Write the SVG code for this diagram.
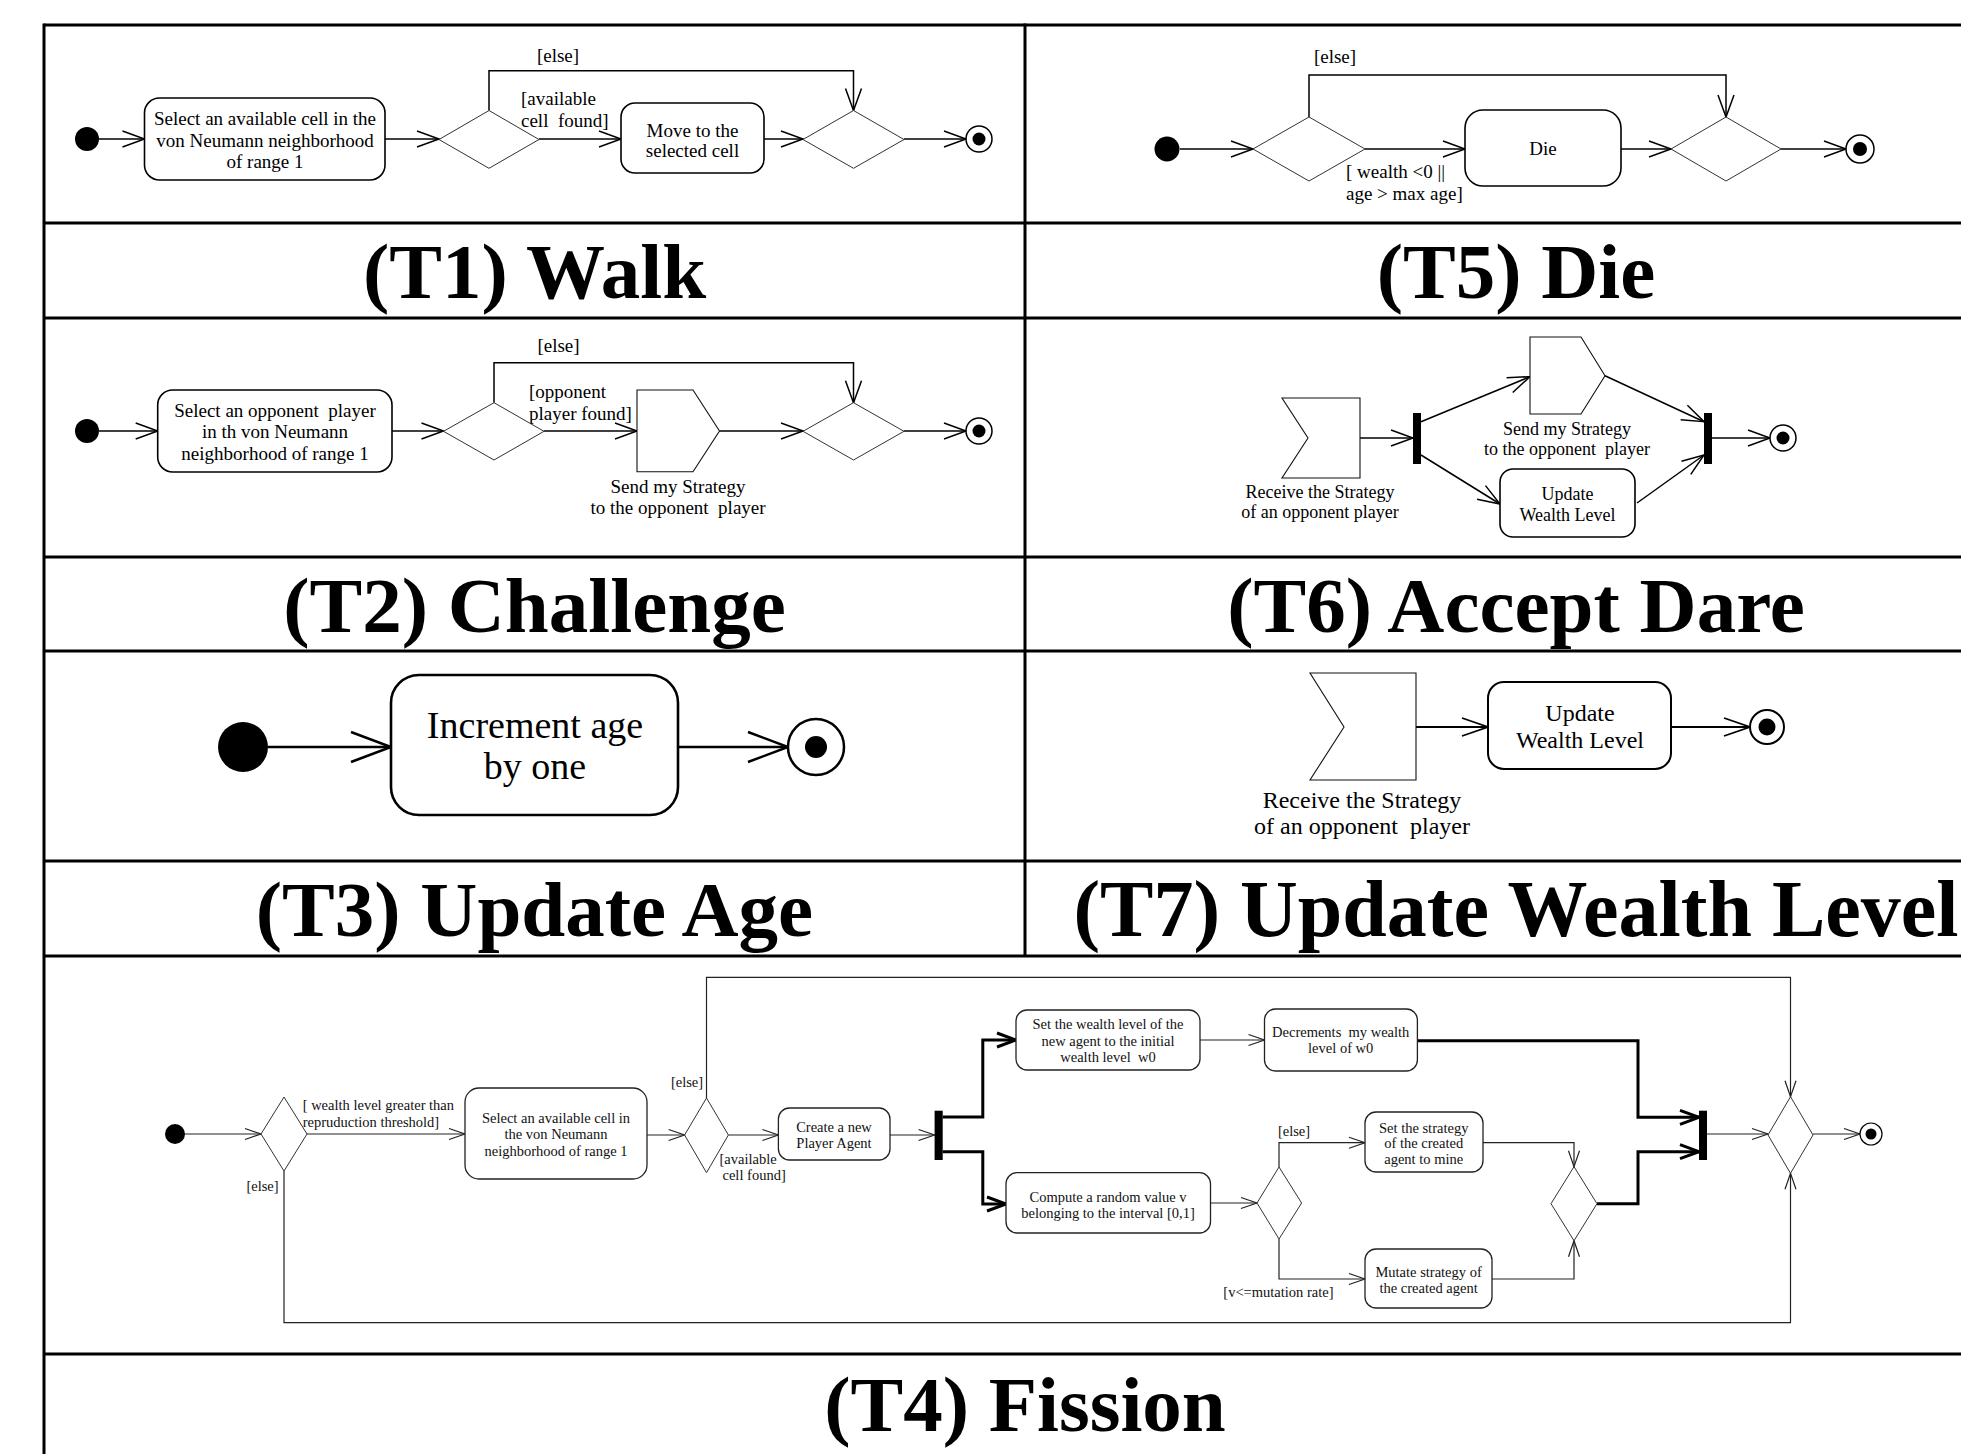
<svg xmlns="http://www.w3.org/2000/svg" width="1961" height="1454" viewBox="0 0 1961 1454">
  <defs>
    <style>
      .frame { stroke:#000; stroke-width:3; fill:none; }
      .act { fill:#fff; stroke:#000; stroke-width:1.6; }
      .act4 { fill:#fff; stroke:#222; stroke-width:1.3; }
      .dec { fill:#fff; stroke:#333; stroke-width:1; }
      .sig { fill:#fff; stroke:#111; stroke-width:1.1; }
      .bar { fill:#000; }
      .dot { fill:#000; }
      .ring { fill:#fff; stroke:#000; stroke-width:1.5; }
      .ln { stroke:#000; stroke-width:1.5; fill:none; }
      .ln3 { stroke:#000; stroke-width:2.6; fill:none; }
      .ln7 { stroke:#000; stroke-width:2; fill:none; }
      .ln4 { stroke:#222; stroke-width:1.2; fill:none; }
      .lnt { stroke:#000; stroke-width:3; fill:none; }
      text { font-family:"Liberation Serif","Times New Roman",serif; fill:#000; white-space:pre; }
      .title { font-weight:bold; font-size:79px; text-anchor:middle; }
      .c { text-anchor:middle; }
      .f19 { font-size:19px; }
      .f18 { font-size:18px; }
      .f24 { font-size:24px; }
      .f38 { font-size:38px; }
      .f14 { font-size:14.5px; fill:#111; }
    </style>
    <marker id="a-md" markerUnits="userSpaceOnUse" orient="auto" markerWidth="1" markerHeight="1" style="overflow:visible">
      <path d="M-22,-8 L0,0 L-22,8" fill="none" stroke="#000" stroke-width="1.5"/>
    </marker>
    <marker id="a-lg" markerUnits="userSpaceOnUse" orient="auto" markerWidth="1" markerHeight="1" style="overflow:visible">
      <path d="M-40,-15 L0,0 L-40,15" fill="none" stroke="#000" stroke-width="2.5"/>
    </marker>
    <marker id="a-t7" markerUnits="userSpaceOnUse" orient="auto" markerWidth="1" markerHeight="1" style="overflow:visible">
      <path d="M-26,-9 L0,0 L-26,9" fill="none" stroke="#000" stroke-width="1.8"/>
    </marker>
    <marker id="a-sm" markerUnits="userSpaceOnUse" orient="auto" markerWidth="1" markerHeight="1" style="overflow:visible">
      <path d="M-16,-5.5 L0,0 L-16,5.5" fill="none" stroke="#222" stroke-width="1.2"/>
    </marker>
    <marker id="a-th" markerUnits="userSpaceOnUse" orient="auto" markerWidth="1" markerHeight="1" style="overflow:visible">
      <path d="M-19,-7 L0,0 L-19,7" fill="none" stroke="#000" stroke-width="3"/>
    </marker>
  </defs>

  <rect width="1961" height="1454" fill="#fff"/>

  <!-- table frame -->
  <g id="frame" class="frame">
    <line x1="44" y1="25" x2="1961" y2="25"/>
    <line x1="44" y1="223" x2="1961" y2="223"/>
    <line x1="44" y1="318" x2="1961" y2="318"/>
    <line x1="44" y1="557" x2="1961" y2="557"/>
    <line x1="44" y1="651" x2="1961" y2="651"/>
    <line x1="44" y1="861" x2="1961" y2="861"/>
    <line x1="44" y1="956" x2="1961" y2="956"/>
    <line x1="44" y1="1354" x2="1961" y2="1354"/>
    <line x1="44" y1="23.5" x2="44" y2="1454"/>
    <line x1="1025" y1="23.5" x2="1025" y2="956"/>
  </g>

  <!-- section titles -->
  <g id="titles">
    <text class="title" x="534.5" y="298">(T1) Walk</text>
    <text class="title" x="1516" y="298">(T5) Die</text>
    <text class="title" x="534.5" y="632">(T2) Challenge</text>
    <text class="title" x="1516" y="632">(T6) Accept Dare</text>
    <text class="title" x="534.5" y="936">(T3) Update Age</text>
    <text class="title" x="1516" y="936" style="font-size:80px">(T7) Update Wealth Level</text>
    <text class="title" x="1025" y="1431">(T4) Fission</text>
  </g>

  <!-- connectors -->
  <g id="connectors">
    <!-- T1 Walk -->
    <line class="ln" x1="99" y1="139" x2="144.5" y2="139" marker-end="url(#a-md)"/>
    <line class="ln" x1="385" y1="139" x2="439" y2="139" marker-end="url(#a-md)"/>
    <line class="ln" x1="539" y1="139" x2="621" y2="139" marker-end="url(#a-md)"/>
    <line class="ln" x1="764" y1="139" x2="803" y2="139" marker-end="url(#a-md)"/>
    <line class="ln" x1="904" y1="139" x2="966" y2="139" marker-end="url(#a-md)"/>
    <path class="ln" d="M489,110.5 V70.7 H853.5 V110.5" marker-end="url(#a-md)"/>
    <text class="f19 c" x="558" y="62">[else]</text>
    <text class="f19" x="521" y="105">[available</text>
    <text class="f19" x="521" y="126.7">cell  found]</text>

    <!-- T5 Die -->
    <line class="ln" x1="1180" y1="149" x2="1253" y2="149" marker-end="url(#a-md)"/>
    <line class="ln" x1="1365" y1="149" x2="1465" y2="149" marker-end="url(#a-md)"/>
    <line class="ln" x1="1621" y1="149" x2="1671" y2="149" marker-end="url(#a-md)"/>
    <line class="ln" x1="1781" y1="149" x2="1846" y2="149" marker-end="url(#a-md)"/>
    <path class="ln" d="M1309,117 V75 H1726 V117" marker-end="url(#a-md)"/>
    <text class="f19 c" x="1335" y="63">[else]</text>
    <text class="f19" x="1346" y="178.3">[ wealth &lt;0 ||</text>
    <text class="f19" x="1346" y="200">age &gt; max age]</text>

    <!-- T2 Challenge -->
    <line class="ln" x1="99" y1="431" x2="157.7" y2="431" marker-end="url(#a-md)"/>
    <line class="ln" x1="392" y1="431" x2="443.5" y2="431" marker-end="url(#a-md)"/>
    <line class="ln" x1="544" y1="431" x2="637" y2="431" marker-end="url(#a-md)"/>
    <line class="ln" x1="719.5" y1="431" x2="803" y2="431" marker-end="url(#a-md)"/>
    <line class="ln" x1="904" y1="431" x2="966" y2="431" marker-end="url(#a-md)"/>
    <path class="ln" d="M494,402.7 V362.7 H853.5 V402.7" marker-end="url(#a-md)"/>
    <text class="f19 c" x="558.5" y="351.7">[else]</text>
    <text class="f19" x="529" y="398.3">[opponent</text>
    <text class="f19" x="529" y="420">player found]</text>

    <!-- T6 Accept Dare -->
    <line class="ln" x1="1360" y1="438" x2="1413" y2="438" marker-end="url(#a-md)"/>
    <line class="ln" x1="1421" y1="421.7" x2="1530" y2="376.7" marker-end="url(#a-md)"/>
    <line class="ln" x1="1421" y1="455" x2="1500" y2="504" marker-end="url(#a-md)"/>
    <line class="ln" x1="1605" y1="375.7" x2="1704" y2="421.7" marker-end="url(#a-md)"/>
    <line class="ln" x1="1637" y1="503" x2="1704" y2="455" marker-end="url(#a-md)"/>
    <line class="ln" x1="1712" y1="438" x2="1770" y2="438" marker-end="url(#a-md)"/>

    <!-- T3 Update Age -->
    <line class="ln3" x1="268" y1="747" x2="391" y2="747" marker-end="url(#a-lg)"/>
    <line class="ln3" x1="678" y1="747" x2="788" y2="747" marker-end="url(#a-lg)"/>

    <!-- T7 Update Wealth Level -->
    <line class="ln7" x1="1416" y1="727" x2="1488" y2="727" marker-end="url(#a-t7)"/>
    <line class="ln7" x1="1671" y1="727" x2="1750" y2="727" marker-end="url(#a-t7)"/>

    <!-- T4 Fission -->
    <line class="ln4" x1="185" y1="1134" x2="261" y2="1134" marker-end="url(#a-sm)"/>
    <line class="ln4" x1="307" y1="1134" x2="465" y2="1134" marker-end="url(#a-sm)"/>
    <line class="ln4" x1="647" y1="1135" x2="684.6" y2="1135" marker-end="url(#a-sm)"/>
    <line class="ln4" x1="728.4" y1="1135" x2="778.4" y2="1135" marker-end="url(#a-sm)"/>
    <line class="ln4" x1="890" y1="1135" x2="934.6" y2="1135" marker-end="url(#a-sm)"/>
    <path class="lnt" d="M942.7,1117 H982.8 V1040 H1016" marker-end="url(#a-th)"/>
    <path class="lnt" d="M942.7,1151.7 H982.8 V1204 H1006" marker-end="url(#a-th)"/>
    <line class="ln4" x1="1200" y1="1040" x2="1264.5" y2="1040" marker-end="url(#a-sm)"/>
    <path class="lnt" d="M1417.4,1040.7 H1638 V1117.3 H1699" marker-end="url(#a-th)"/>
    <line class="ln4" x1="1210.5" y1="1203" x2="1257" y2="1203" marker-end="url(#a-sm)"/>
    <path class="ln4" d="M1279,1167 V1142.7 H1365" marker-end="url(#a-sm)"/>
    <path class="ln4" d="M1279,1239 V1279 H1365" marker-end="url(#a-sm)"/>
    <path class="ln4" d="M1483,1142.7 H1574 V1166.7" marker-end="url(#a-sm)"/>
    <path class="ln4" d="M1492,1279 H1574 V1240.7" marker-end="url(#a-sm)"/>
    <path class="lnt" d="M1597,1203.7 H1638 V1151.7 H1699" marker-end="url(#a-th)"/>
    <line class="ln4" x1="1707" y1="1134" x2="1768" y2="1134" marker-end="url(#a-sm)"/>
    <line class="ln4" x1="1813" y1="1134" x2="1860" y2="1134" marker-end="url(#a-sm)"/>
    <path class="ln4" d="M706.5,1098 V977.3 H1790.5 V1096.7" marker-end="url(#a-sm)"/>
    <path class="ln4" d="M284,1171 V1322.7 H1790.5 V1173.3" marker-end="url(#a-sm)"/>
    <text class="f14" x="302.7" y="1110">[ wealth level greater than</text>
    <text class="f14" x="302.7" y="1126.7">repruduction threshold]</text>
    <text class="f14 c" x="262.5" y="1190.7">[else]</text>
    <text class="f14 c" x="687" y="1086.7">[else]</text>
    <text class="f14" x="719.5" y="1164">[available</text>
    <text class="f14" x="722.5" y="1180">cell found]</text>
    <text class="f14 c" x="1294" y="1136">[else]</text>
    <text class="f14 c" x="1278.4" y="1296.7">[v&lt;=mutation rate]</text>
  </g>

  <!-- T1 Walk nodes -->
  <g id="t1-start"><circle class="dot" cx="87" cy="139" r="12"/></g>
  <g id="t1-select-cell">
    <rect class="act" x="144.5" y="98" width="240.5" height="82" rx="15"/>
    <text class="f19 c"><tspan x="265" y="125">Select an available cell in the</tspan><tspan x="265" y="146.7">von Neumann neighborhood</tspan><tspan x="265" y="168.3">of range 1</tspan></text>
  </g>
  <g id="t1-decision"><polygon class="dec" points="439,139.5 489,110.5 539,139.5 489,168.3"/></g>
  <g id="t1-move">
    <rect class="act" x="621" y="103" width="143" height="70" rx="14"/>
    <text class="f19 c"><tspan x="692.5" y="136.7">Move to the</tspan><tspan x="692.5" y="156.7">selected cell</tspan></text>
  </g>
  <g id="t1-merge"><polygon class="dec" points="803,139.5 853.5,110.5 904,139.5 853.5,168.3"/></g>
  <g id="t1-end"><circle class="ring" cx="979" cy="139" r="13"/><circle class="dot" cx="979" cy="139" r="6.5"/></g>

  <!-- T5 Die nodes -->
  <g id="t5-start"><circle class="dot" cx="1167" cy="149" r="12.5"/></g>
  <g id="t5-decision"><polygon class="dec" points="1253,149 1309,117 1365,149 1309,181"/></g>
  <g id="t5-die">
    <rect class="act" x="1465" y="110" width="156" height="76" rx="18"/>
    <text class="f19 c" x="1543" y="155">Die</text>
  </g>
  <g id="t5-merge"><polygon class="dec" points="1671,149 1726,117 1781,149 1726,181"/></g>
  <g id="t5-end"><circle class="ring" cx="1860" cy="149" r="14"/><circle class="dot" cx="1860" cy="149" r="7"/></g>

  <!-- T2 Challenge nodes -->
  <g id="t2-start"><circle class="dot" cx="87" cy="431" r="12"/></g>
  <g id="t2-select-opponent">
    <rect class="act" x="157.7" y="390" width="234.3" height="82" rx="15"/>
    <text class="f19 c"><tspan x="275" y="417.3">Select an opponent  player</tspan><tspan x="275" y="438.3">in th von Neumann</tspan><tspan x="275" y="460">neighborhood of range 1</tspan></text>
  </g>
  <g id="t2-decision"><polygon class="dec" points="443.5,431.3 494,402.7 544,431.3 494,460"/></g>
  <g id="t2-send">
    <polygon class="sig" points="637,390 693,390 719.5,431 693,471.7 637,471.7"/>
    <text class="f19 c"><tspan x="678" y="493.3">Send my Strategy</tspan><tspan x="678" y="514">to the opponent  player</tspan></text>
  </g>
  <g id="t2-merge"><polygon class="dec" points="803,431.3 853.5,402.7 904,431.3 853.5,460"/></g>
  <g id="t2-end"><circle class="ring" cx="979" cy="431" r="13"/><circle class="dot" cx="979" cy="431" r="6.5"/></g>

  <!-- T6 Accept Dare nodes -->
  <g id="t6-receive">
    <polygon class="sig" points="1282,398 1360,398 1360,478 1282,478 1308,438"/>
    <text class="f18 c"><tspan x="1320" y="498.3">Receive the Strategy</tspan><tspan x="1320" y="518.3">of an opponent player</tspan></text>
  </g>
  <g id="t6-fork"><rect class="bar" x="1413" y="413" width="8" height="51"/></g>
  <g id="t6-send">
    <polygon class="sig" points="1530,337 1581,337 1605,375.7 1581,414 1530,414"/>
    <text class="f18 c"><tspan x="1567" y="435">Send my Strategy</tspan><tspan x="1567" y="455">to the opponent  player</tspan></text>
  </g>
  <g id="t6-update">
    <rect class="act" x="1500" y="469" width="135" height="68" rx="13"/>
    <text class="f18 c"><tspan x="1567.5" y="500">Update</tspan><tspan x="1567.5" y="520.7">Wealth Level</tspan></text>
  </g>
  <g id="t6-join"><rect class="bar" x="1704" y="413" width="8" height="51"/></g>
  <g id="t6-end"><circle class="ring" cx="1783" cy="438" r="13"/><circle class="dot" cx="1783" cy="438" r="6.5"/></g>

  <!-- T3 Update Age nodes -->
  <g id="t3-start"><circle class="dot" cx="243" cy="747" r="25"/></g>
  <g id="t3-increment">
    <rect class="act" x="391" y="675" width="287" height="140" rx="28" style="stroke-width:2.6"/>
    <text class="f38 c"><tspan x="535" y="738.3">Increment age</tspan><tspan x="535" y="779.3">by one</tspan></text>
  </g>
  <g id="t3-end"><circle class="ring" cx="816" cy="747" r="28" style="stroke-width:2.5"/><circle class="dot" cx="816" cy="747" r="11"/></g>

  <!-- T7 Update Wealth Level nodes -->
  <g id="t7-receive">
    <polygon class="sig" points="1310,673 1416,673 1416,780 1310,780 1344,727"/>
    <text class="f24 c"><tspan x="1362" y="808.3">Receive the Strategy</tspan><tspan x="1362" y="834">of an opponent  player</tspan></text>
  </g>
  <g id="t7-update">
    <rect class="act" x="1488" y="682" width="183" height="87" rx="16" style="stroke-width:2"/>
    <text class="f24 c"><tspan x="1580" y="720.7">Update</tspan><tspan x="1580" y="748.3">Wealth Level</tspan></text>
  </g>
  <g id="t7-end"><circle class="ring" cx="1767" cy="727" r="17" style="stroke-width:2"/><circle class="dot" cx="1767" cy="727" r="8.5"/></g>

  <!-- T4 Fission nodes -->
  <g id="t4-start"><circle class="dot" cx="175" cy="1134" r="10"/></g>
  <g id="t4-wealth-check"><polygon class="dec" points="261,1134 284,1097 307,1134 284,1171"/></g>
  <g id="t4-select-cell">
    <rect class="act4" x="465" y="1088" width="182" height="91" rx="14"/>
    <text class="f14 c"><tspan x="556" y="1123.3">Select an available cell in</tspan><tspan x="556" y="1139.3">the von Neumann</tspan><tspan x="556" y="1156">neighborhood of range 1</tspan></text>
  </g>
  <g id="t4-cell-check"><polygon class="dec" points="684.6,1135 706.5,1098 728.4,1135 706.5,1172.7"/></g>
  <g id="t4-create">
    <rect class="act4" x="778.4" y="1108" width="111.6" height="52" rx="11"/>
    <text class="f14 c"><tspan x="834" y="1131.7">Create a new</tspan><tspan x="834" y="1147.7">Player Agent</tspan></text>
  </g>
  <g id="t4-fork"><rect class="bar" x="934.6" y="1110.7" width="8.1" height="49.3"/></g>
  <g id="t4-set-wealth">
    <rect class="act4" x="1016" y="1010" width="184" height="60" rx="11"/>
    <text class="f14 c"><tspan x="1108" y="1029.3">Set the wealth level of the</tspan><tspan x="1108" y="1045.7">new agent to the initial</tspan><tspan x="1108" y="1061.7">wealth level  w0</tspan></text>
  </g>
  <g id="t4-decrement">
    <rect class="act4" x="1264.5" y="1009" width="152.9" height="62" rx="11"/>
    <text class="f14 c"><tspan x="1340.7" y="1037.3">Decrements  my wealth</tspan><tspan x="1340.7" y="1053.3">level of w0</tspan></text>
  </g>
  <g id="t4-compute">
    <rect class="act4" x="1006" y="1172.7" width="204.5" height="60.3" rx="11"/>
    <text class="f14 c"><tspan x="1108" y="1201.7">Compute a random value v</tspan><tspan x="1108" y="1217.7">belonging to the interval [0,1]</tspan></text>
  </g>
  <g id="t4-mutation-check"><polygon class="dec" points="1257,1203 1279,1167 1301.6,1203 1279,1239"/></g>
  <g id="t4-set-strategy">
    <rect class="act4" x="1365" y="1112" width="118" height="60" rx="11"/>
    <text class="f14 c"><tspan x="1423.7" y="1132.7">Set the strategy</tspan><tspan x="1423.7" y="1148.3">of the created</tspan><tspan x="1423.7" y="1164">agent to mine</tspan></text>
  </g>
  <g id="t4-mutate">
    <rect class="act4" x="1365" y="1249" width="127" height="59" rx="11"/>
    <text class="f14 c"><tspan x="1428.6" y="1276.7">Mutate strategy of</tspan><tspan x="1428.6" y="1293.3">the created agent</tspan></text>
  </g>
  <g id="t4-strategy-merge"><polygon class="dec" points="1551,1203.7 1574,1166.7 1597,1203.7 1574,1240.7"/></g>
  <g id="t4-join"><rect class="bar" x="1699" y="1110.7" width="8" height="49.3"/></g>
  <g id="t4-merge"><polygon class="dec" points="1768,1135 1790.5,1096.7 1813,1135 1790.5,1173.3"/></g>
  <g id="t4-end"><circle class="ring" cx="1871" cy="1134" r="11" style="stroke-width:1.2"/><circle class="dot" cx="1871" cy="1134" r="5.5"/></g>
</svg>
